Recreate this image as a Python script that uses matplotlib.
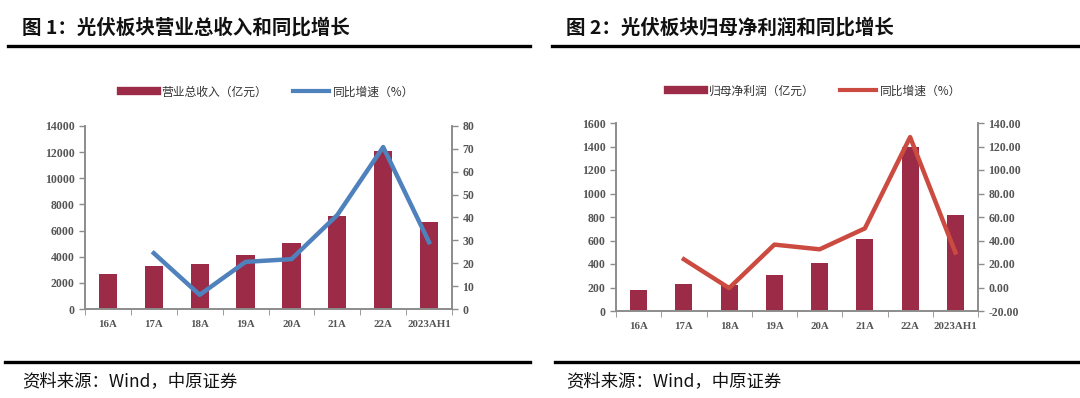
import numpy as np
import matplotlib
matplotlib.use('Agg')
import matplotlib.pyplot as plt
from matplotlib.lines import Line2D
from matplotlib.ticker import FixedLocator, FormatStrFormatter

plt.rcParams['font.family'] = ['Noto Sans CJK SC', 'DejaVu Sans']

# data
years = ['16A', '17A', '18A', '19A', '20A', '21A', '22A', '2023AH1']
revenue = [2650, 3300, 3450, 4150, 5050, 7100, 12100, 6650]
revenue_yoy = [np.nan, 24.4, 6.2, 20.6, 21.8, 41.1, 70.8, 29.2]
profit = [181, 229, 220, 305, 407, 611, 1400, 820]
profit_yoy = [np.nan, 24.0, -0.5, 36.5, 32.5, 50.3, 128.0, 29.8]

BAR = '#9B2B47'
BLUE = '#4F81BD'
RED = '#CB4B40'
TICK_C = '#555555'
SPINE_C = '#8C8C8C'

W, H = 1080, 398
fig = plt.figure(figsize=(W / 100, H / 100), dpi=100)


def fx(px):
    return px / W


def fy(py):
    return 1 - py / H


def style_axes(ax, ax2):
    for a in (ax, ax2):
        a.spines['top'].set_visible(False)
        for s in ('left', 'right', 'bottom'):
            a.spines[s].set_color(SPINE_C)
            a.spines[s].set_linewidth(1.2)
        a.tick_params(colors=SPINE_C, labelcolor=TICK_C, labelsize=8.5,
                      length=4, width=1)
    ax.set_xticks(np.arange(len(years)))
    ax.set_xticklabels(years, family='Liberation Serif', fontweight='bold',
                       color=TICK_C, fontsize=7.8)
    ax.xaxis.set_minor_locator(FixedLocator(np.arange(-0.5, len(years), 1)))
    ax.tick_params(axis='x', which='major', length=0, pad=8)
    ax.tick_params(axis='x', which='minor', length=4, color=SPINE_C)
    ax.set_xlim(-0.5, len(years) - 0.5)


def panel(rect, bars, yoy, line_c, ylim, yticks, ylim2, yticks2, fmt2,
          bar_lab, line_lab, legend_xy, bar_w):
    l, t, r, b = rect
    ax = fig.add_axes([fx(l), fy(b), fx(r - l), (b - t) / H])
    ax2 = ax.twinx()
    x = np.arange(len(years))
    ax.bar(x, bars, width=bar_w, color=BAR, zorder=2)
    ax2.plot(x, yoy, color=line_c, lw=3.2, zorder=3)
    ax.set_ylim(*ylim)
    ax.set_yticks(yticks)
    ax2.set_ylim(*ylim2)
    ax2.set_yticks(yticks2)
    ax2.yaxis.set_major_formatter(FormatStrFormatter(fmt2))
    style_axes(ax, ax2)
    for a in (ax, ax2):
        for lab in a.get_yticklabels():
            lab.set_family('Liberation Serif')
            lab.set_fontweight('bold')
    handles = [Line2D([], [], color=BAR, lw=6), Line2D([], [], color=line_c, lw=3)]
    ax.legend(handles, [bar_lab, line_lab], loc='center',
              bbox_to_anchor=(fx(legend_xy[0]), fy(legend_xy[1])),
              bbox_transform=fig.transFigure, ncol=2, frameon=False,
              fontsize=8.5, handlelength=3.0, handletextpad=0.4,
              columnspacing=2.2, labelcolor='#333333')
    return ax, ax2


panel((85, 126, 452, 309), revenue, revenue_yoy, BLUE,
      (0, 14000), np.arange(0, 14001, 2000), (0, 80), np.arange(0, 81, 10), '%d',
      '营业总收入（亿元）', '同比增速（%）', (268, 92), 0.4)

panel((616, 123, 978, 311), profit, profit_yoy, RED,
      (0, 1600), np.arange(0, 1601, 200), (-20, 140), np.arange(-20, 141, 20), '%.2f',
      '归母净利润（亿元）', '同比增速（%）', (815, 91), 0.38)

# titles and rules
fig.text(fx(22), fy(28), '图 1：光伏板块营业总收入和同比增长', fontsize=14,
         fontweight='bold', va='center', color='#111111')
fig.text(fx(566), fy(28), '图 2：光伏板块归母净利润和同比增长', fontsize=14,
         fontweight='bold', va='center', color='#111111')
for x0, x1 in ((8, 530), (552, 1078)):
    fig.add_artist(Line2D([fx(x0), fx(x1)], [fy(46), fy(46)], color='black',
                          lw=2.4, transform=fig.transFigure))
for x0, x1 in ((5, 530), (555, 1078)):
    fig.add_artist(Line2D([fx(x0), fx(x1)], [fy(362), fy(362)], color='black',
                          lw=2.4, transform=fig.transFigure))
fig.text(fx(22), fy(381), '资料来源：Wind，中原证券', fontsize=12.5, va='center',
         color='#111111')
fig.text(fx(566), fy(381), '资料来源：Wind，中原证券', fontsize=12.5, va='center',
         color='#111111')

fig.savefig('out.png', dpi=100)
